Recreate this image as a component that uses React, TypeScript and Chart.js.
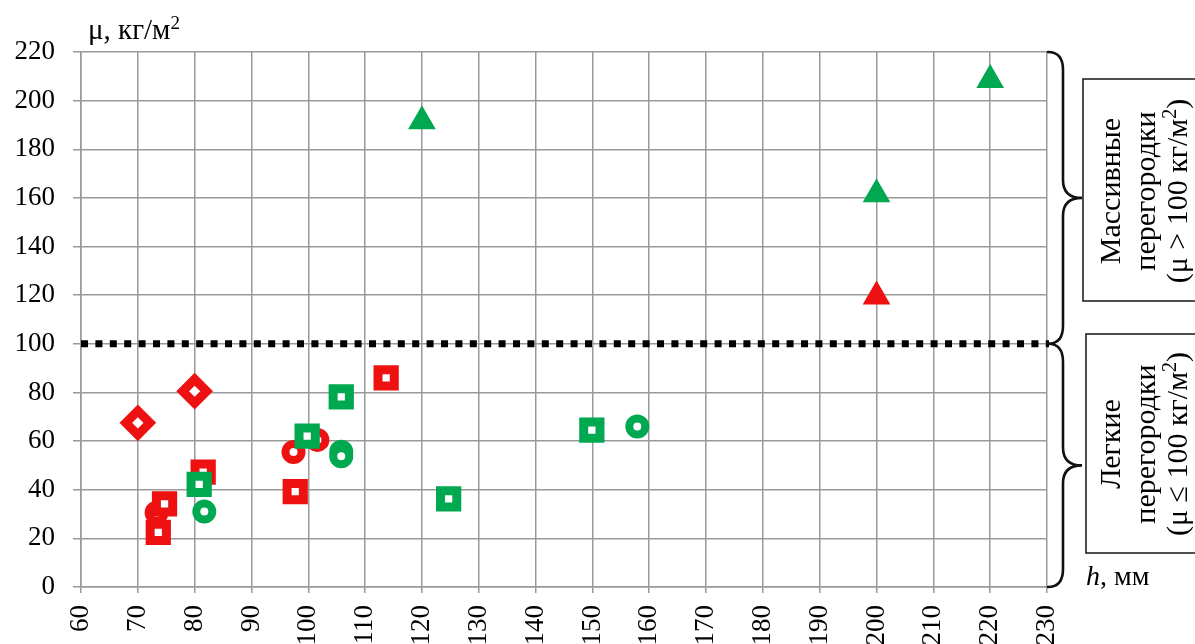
import React, { useEffect, useRef } from 'react';
import { Chart, registerables } from 'chart.js';

Chart.register(...registerables);

// ---- axis ranges / ticks ----
const xMin = 60;
const xMax = 230;
const xStep = 10;
const yMin = 0;
const yMax = 220;
const yStep = 20;
const boundaryValue = 100;

// ---- data (h, mm ; μ, kg/m²) ----
const redDiamondX = [70, 80];
const redDiamondY = [67.5, 80.5];

const redSquareX = [73.6, 74.7, 81.5, 97.7, 113.7];
const redSquareY = [22.5, 34.2, 47.2, 39.2, 86];

const redCircleX = [73.3, 97.4, 101.6];
const redCircleY = [30.5, 55.5, 60.5];

const redTriangleX = [200];
const redTriangleY = [119.5];

const greenSquareX = [80.8, 99.8, 105.8, 124.7, 149.9];
const greenSquareY = [42.2, 62, 78.2, 36.2, 64.5];

const greenCircleX = [81.7, 105.8, 105.8, 157.9];
const greenCircleY = [31, 55.6, 53.8, 66];

const greenTriangleX = [120, 200, 220];
const greenTriangleY = [191.5, 161.5, 208.5];

// ---- texts ----
const yTitle = 'μ, кг/м';
const xTitleItalic = 'h';
const xTitleRest = ', мм';
const upperLines = ['Массивные', 'перегородки', '(μ > 100 кг/м'];
const lowerLines = ['Легкие', 'перегородки', '(μ ≤ 100 кг/м'];

const RED = '#ee1111';
const GREEN = '#00a84f';
const GRID = '#999999';
const FONT = '"Liberation Serif", "Times New Roman", serif';
const FS = 27;
const FS_TITLE = 29;
const FS_BOX = 30;

function pts(xs: number[], ys: number[]) {
  return xs.map((x, i) => ({ x, y: ys[i] }));
}

type Part = { t: string; sup?: boolean; italic?: boolean };

function drawRich(ctx: CanvasRenderingContext2D, parts: Part[], x: number, y: number, size: number, align: 'left' | 'center') {
  const fontFor = (p: Part) =>
    `${p.italic ? 'italic ' : ''}${p.sup ? Math.round(size * 0.66) : size}px ${FONT}`;
  let total = 0;
  const widths = parts.map((p) => {
    ctx.font = fontFor(p);
    const w = ctx.measureText(p.t).width;
    total += w;
    return w;
  });
  let cx = align === 'center' ? x - total / 2 : x;
  ctx.textAlign = 'left';
  ctx.textBaseline = 'alphabetic';
  parts.forEach((p, i) => {
    ctx.font = fontFor(p);
    ctx.fillText(p.t, cx, p.sup ? y - size * 0.36 : y);
    cx += widths[i];
  });
}

function drawBrace(ctx: CanvasRenderingContext2D, xl: number, xv: number, xt: number, y0: number, y1: number) {
  const ym = (y0 + y1) / 2;
  const rc = 18;
  ctx.beginPath();
  ctx.moveTo(xl, y0);
  ctx.quadraticCurveTo(xv, y0, xv, y0 + rc);
  ctx.lineTo(xv, ym - rc);
  ctx.quadraticCurveTo(xv, ym, xt, ym);
  ctx.quadraticCurveTo(xv, ym, xv, ym + rc);
  ctx.lineTo(xv, y1 - rc);
  ctx.quadraticCurveTo(xv, y1, xl, y1);
  ctx.stroke();
}

const decorPlugin = {
  id: 'decor',
  beforeDatasetsDraw(chart: any) {
    const { ctx, chartArea, scales } = chart;
    const yb = scales.y.getPixelForValue(boundaryValue);
    ctx.save();
    ctx.strokeStyle = '#000';
    ctx.lineWidth = 7;
    ctx.setLineDash([7, 7.4]);
    ctx.beginPath();
    ctx.moveTo(chartArea.left, yb);
    ctx.lineTo(chartArea.right + 2, yb);
    ctx.stroke();
    ctx.restore();
  },
  afterDraw(chart: any) {
    const { ctx, chartArea, scales } = chart;
    const r = chartArea.right;
    const yTop = scales.y.getPixelForValue(yMax);
    const yB = scales.y.getPixelForValue(boundaryValue);
    const y0 = scales.y.getPixelForValue(yMin);
    ctx.save();
    ctx.fillStyle = '#000';
    // axis titles
    drawRich(ctx, [{ t: yTitle }, { t: '2', sup: true }], 88, 39, FS_TITLE, 'left');
    drawRich(ctx, [{ t: xTitleItalic, italic: true }, { t: xTitleRest }], 1086, 585, 28, 'left');

    // braces
    ctx.strokeStyle = '#111';
    ctx.lineWidth = 2.6;
    ctx.lineCap = 'round';
    drawBrace(ctx, r + 1, r + 16, r + 35, yTop, yB);
    drawBrace(ctx, r + 1, r + 16, r + 35, yB, y0);

    // boxes
    ctx.strokeStyle = '#222';
    ctx.lineWidth = 1.6;
    ctx.strokeRect(1083, 79, 130, 222);
    ctx.strokeRect(1086, 334, 130, 219);

    // rotated box texts
    const lineX = [1110, 1145, 1177];
    const drawBlock = (lines: string[], cy: number) => {
      lines.forEach((ln, i) => {
        ctx.save();
        ctx.translate(lineX[i], cy);
        ctx.rotate(-Math.PI / 2);
        const parts: Part[] = i === 2 ? [{ t: ln }, { t: '2', sup: true }, { t: ')' }] : [{ t: ln }];
        drawRich(ctx, parts, 0, FS_BOX * 0.33, FS_BOX, 'center');
        ctx.restore();
      });
    };
    drawBlock(upperLines, 191);
    drawBlock(lowerLines, 444);
    ctx.restore();
  },
};

export default function App() {
  const ref = useRef<HTMLCanvasElement>(null);

  useEffect(() => {
    document.body.style.margin = '0';
    document.body.style.overflow = 'hidden';
    const canvas = ref.current;
    if (!canvas) return;

    const mk = (label: string, xs: number[], ys: number[], style: string, radius: number, bw: number, color: string, fill: string, order: number) => ({
      label,
      data: pts(xs, ys),
      pointStyle: style,
      pointRadius: radius,
      pointHoverRadius: radius,
      pointBorderWidth: bw,
      pointHoverBorderWidth: bw,
      pointBorderColor: color,
      pointBackgroundColor: fill,
      order,
    });

    const chart = new Chart(canvas, {
      type: 'scatter',
      data: {
        datasets: [
          mk('green squares', greenSquareX, greenSquareY, 'rect', 11.5, 9, GREEN, '#fff', 0),
          mk('green circles', greenCircleX, greenCircleY, 'circle', 8, 8, GREEN, '#fff', 1),
          mk('green triangles', greenTriangleX, greenTriangleY, 'triangle', 12.5, 3.5, GREEN, GREEN, 2),
          mk('red squares', redSquareX, redSquareY, 'rect', 11.5, 9, RED, '#fff', 3),
          mk('red circles', redCircleX, redCircleY, 'circle', 8, 8, RED, '#fff', 4),
          mk('red diamonds', redDiamondX, redDiamondY, 'rectRot', 12, 9, RED, '#fff', 5),
          mk('red triangles', redTriangleX, redTriangleY, 'triangle', 12.5, 3.5, RED, RED, 6),
        ] as any,
      },
      options: {
        animation: false,
        responsive: false,
        devicePixelRatio: 1,
        layout: { padding: { left: 0, top: 52, right: 148, bottom: 0 } },
        plugins: { legend: { display: false }, tooltip: { enabled: false } },
        scales: {
          x: {
            type: 'linear',
            min: xMin,
            max: xMax,
            ticks: {
              stepSize: xStep,
              minRotation: 90,
              maxRotation: 90,
              autoSkip: false,
              padding: 12,
              color: '#000',
              font: { family: FONT, size: FS },
            },
            grid: { color: GRID, lineWidth: 1.5, tickLength: 6 },
            border: { color: GRID, width: 1.5 },
            afterFit: (s: any) => {
              s.height = 57;
            },
          },
          y: {
            type: 'linear',
            min: yMin,
            max: yMax,
            ticks: {
              stepSize: yStep,
              padding: 18,
              color: '#000',
              font: { family: FONT, size: FS },
            },
            grid: { color: GRID, lineWidth: 1.5, tickLength: 8 },
            border: { color: GRID, width: 1.5 },
            afterFit: (s: any) => {
              s.width = 81;
            },
          },
        },
      } as any,
      plugins: [decorPlugin as any],
    });
    return () => chart.destroy();
  }, []);

  return (
    <div style={{ position: 'absolute', left: 0, top: 0, width: 1195, height: 644, background: '#fff' }}>
      <canvas ref={ref} width={1195} height={644} style={{ width: 1195, height: 644, display: 'block' }} />
    </div>
  );
}
